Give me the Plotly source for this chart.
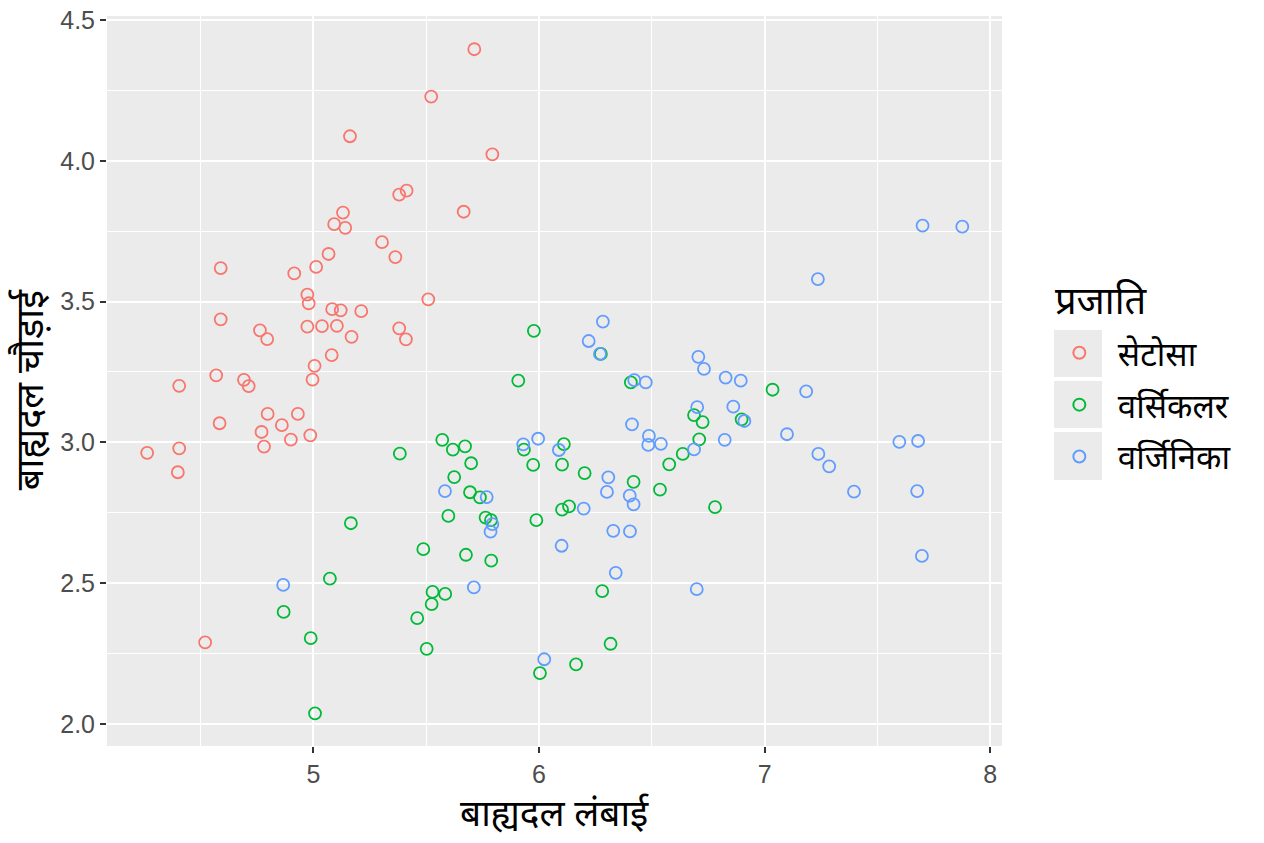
import plotly.graph_objects as go

species = ["सेटोसा", "वर्सिकलर", "वर्जिनिका"]
colors = ["#F8766D", "#00BA38", "#619CFF"]

setosa_x = [5.713, 5.522, 5.162, 5.793, 5.413, 5.380, 5.666, 5.131, 5.092, 5.141,
            5.304, 5.363, 5.067, 4.589, 4.915, 5.012, 4.973, 4.979, 5.509, 5.083,
            5.121, 5.212, 4.589, 4.763, 4.795, 4.973, 5.038, 5.104, 5.169, 5.380,
            5.410, 5.081, 5.005, 4.996, 4.569, 4.692, 4.713, 4.405, 4.797, 4.931,
            4.584, 4.860, 4.770, 4.900, 4.986, 4.781, 4.405, 4.263, 4.399, 4.520]
setosa_y = [4.396, 4.228, 4.087, 4.023, 3.894, 3.880, 3.819, 3.816, 3.775, 3.762,
            3.711, 3.658, 3.669, 3.619, 3.600, 3.623, 3.525, 3.494, 3.508, 3.473,
            3.469, 3.466, 3.437, 3.398, 3.367, 3.411, 3.413, 3.414, 3.375, 3.405,
            3.366, 3.310, 3.272, 3.223, 3.238, 3.222, 3.200, 3.201, 3.101, 3.101,
            3.068, 3.061, 3.037, 3.010, 3.025, 2.985, 2.979, 2.963, 2.894, 2.290]

versicolor_x = [7.035, 6.687, 6.725, 6.898, 6.710, 6.780, 6.637, 6.577, 6.536, 6.419,
                5.977, 6.274, 5.908, 6.407, 5.571, 5.618, 5.672, 5.699, 5.624, 5.694,
                5.738, 5.598, 5.763, 5.787, 5.933, 5.974, 6.110, 6.102, 6.202, 6.102,
                6.133, 5.988, 5.487, 5.676, 5.788, 5.528, 5.584, 5.524, 5.460, 6.280,
                5.502, 6.317, 6.164, 6.004, 5.166, 5.073, 4.868, 4.988, 5.007, 5.383]
versicolor_y = [3.187, 3.097, 3.072, 3.082, 3.011, 2.770, 2.959, 2.922, 2.832, 2.860,
                3.396, 3.314, 3.219, 3.213, 3.009, 2.974, 2.986, 2.926, 2.877, 2.823,
                2.805, 2.739, 2.733, 2.724, 2.974, 2.920, 2.994, 2.921, 2.891, 2.761,
                2.773, 2.724, 2.621, 2.601, 2.580, 2.469, 2.462, 2.426, 2.376, 2.472,
                2.267, 2.285, 2.212, 2.181, 2.713, 2.516, 2.398, 2.305, 2.038, 2.960]

virginica_x = [7.700, 7.876, 7.236, 6.706, 6.731, 6.827, 6.894, 7.184, 6.701, 6.861,
               6.910, 6.823, 6.687, 7.099, 7.238, 7.286, 7.396, 7.597, 7.680, 7.676,
               7.697, 6.699, 6.473, 6.422, 6.283, 6.220, 6.270, 6.412, 6.487, 6.484,
               6.540, 5.583, 5.768, 5.793, 5.785, 5.930, 5.996, 6.088, 6.307, 6.301,
               6.402, 6.419, 6.198, 6.329, 6.403, 6.100, 6.340, 5.711, 6.023, 4.866]
virginica_y = [3.770, 3.766, 3.580, 3.304, 3.261, 3.230, 3.219, 3.181, 3.125, 3.127,
               3.076, 3.009, 2.975, 3.029, 2.959, 2.915, 2.825, 3.002, 3.005, 2.827,
               2.597, 2.479, 3.213, 3.221, 3.429, 3.360, 3.314, 3.064, 3.023, 2.991,
               2.995, 2.827, 2.806, 2.710, 2.683, 2.993, 3.013, 2.973, 2.876, 2.824,
               2.811, 2.780, 2.765, 2.686, 2.684, 2.633, 2.537, 2.485, 2.230, 2.494]

x_title = "बाह्यदल लंबाई"
y_title = "बाह्यदल चौड़ाई"
legend_title = "प्रजाति"

x_ticks = [5, 6, 7, 8]
y_ticks = [2.0, 2.5, 3.0, 3.5, 4.0, 4.5]

FONT = "Noto Sans, Noto Sans Devanagari, Lohit Devanagari, sans-serif"
TICKFONT = "Liberation Sans, Arial, sans-serif"

fig = go.Figure()
for name, col, xs, ys in zip(species, colors,
                             [setosa_x, versicolor_x, virginica_x],
                             [setosa_y, versicolor_y, virginica_y]):
    fig.add_trace(go.Scatter(
        x=xs, y=ys, mode="markers", name=name, legendgroup=name,
        marker=dict(symbol="circle-open", size=12, color=col,
                    line=dict(width=1.8, color=col)),
    ))

# grey legend key backgrounds (ggplot style)
for y0, y1 in [(0.5055, 0.5699), (0.4356, 0.5000), (0.3644, 0.4301)]:
    fig.add_shape(type="rect", xref="paper", yref="paper",
                  x0=1.0581, x1=1.1117, y0=y0, y1=y1,
                  fillcolor="#EBEBEB", line=dict(width=0), layer="below")

# titles as annotations for precise placement
fig.add_annotation(text=legend_title, xref="paper", yref="paper",
                   x=1.0565, y=0.613, xanchor="left", yanchor="middle",
                   showarrow=False, font=dict(size=38, family=FONT, color="black"))
fig.add_annotation(text=y_title, xref="paper", yref="paper",
                   x=-0.1190, y=0.488, xanchor="left", yanchor="middle",
                   textangle=-90, showarrow=False, borderpad=0,
                   font=dict(size=38, family=FONT, color="black"))
fig.add_annotation(text=x_title, xref="paper", yref="paper",
                   x=0.5, y=-0.0904, xanchor="center", yanchor="middle",
                   showarrow=False, font=dict(size=37, family=FONT, color="black"))

fig.update_layout(
    width=1264, height=843,
    margin=dict(l=107, r=262, t=16, b=97, autoexpand=False),
    paper_bgcolor="white", plot_bgcolor="#EBEBEB",
    font=dict(family=FONT, color="black"),
    showlegend=True,
    legend=dict(
        font=dict(size=33, family=FONT, color="black"),
        x=1.0434, xanchor="left", y=0.577, yanchor="top",
        bgcolor="rgba(0,0,0,0)", tracegroupgap=6, traceorder="grouped",
        itemsizing="constant", itemwidth=67,
    ),
    xaxis=dict(
        range=[4.085, 8.052], tickvals=x_ticks, ticktext=[str(v) for v in x_ticks],
        showgrid=True, gridcolor="white", gridwidth=2.4,
        minor=dict(dtick=0.5, tick0=4.5, showgrid=True, gridcolor="white", gridwidth=1.1, ticks=""),
        ticks="outside", ticklen=6, tickwidth=2, tickcolor="#333333",
        tickfont=dict(size=25, family=TICKFONT, color="#4D4D4D"),
        ticklabeloverflow="allow", automargin=False,
        zeroline=False, showline=False,
    ),
    yaxis=dict(
        range=[1.922, 4.514], tickvals=y_ticks, ticktext=[f"{v:.1f}" for v in y_ticks],
        showgrid=True, gridcolor="white", gridwidth=2.4,
        minor=dict(dtick=0.25, tick0=2.25, showgrid=True, gridcolor="white", gridwidth=1.1, ticks=""),
        ticks="outside", ticklen=6, tickwidth=2, tickcolor="#333333",
        tickfont=dict(size=25, family=TICKFONT, color="#4D4D4D"),
        ticklabeloverflow="allow", automargin=False,
        zeroline=False, showline=False,
    ),
)

fig.write_html("out.html", config={"displayModeBar": False},
               post_script="document.body.style.margin='0';")
